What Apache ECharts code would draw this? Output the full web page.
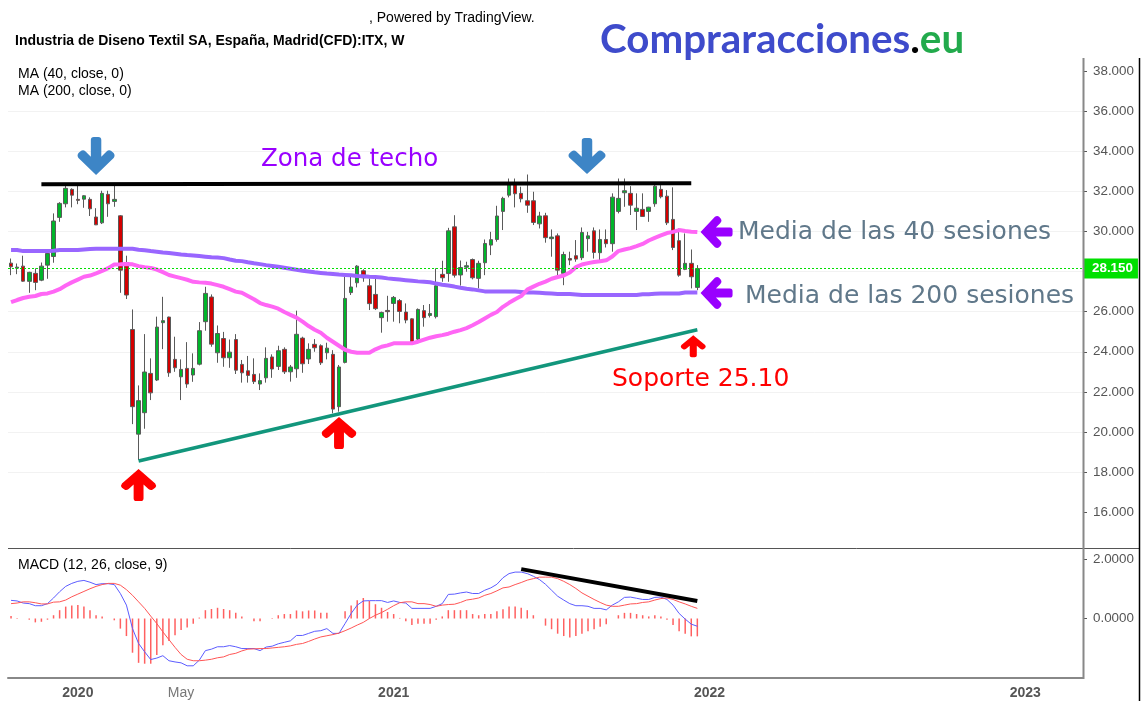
<!DOCTYPE html>
<html lang="es">
<head>
<meta charset="UTF-8">
<title>ITX semanal</title>
<style>
  html,body{margin:0;padding:0;background:#fff;}
  #chart{width:1147px;height:706px;}
</style>
</head>
<body>
<div id="chart"></div>
<script src="https://cdn.jsdelivr.net/npm/echarts@6/dist/echarts.min.js"></script>
<script>
// weekly candles
var opens=[28.42,28.17,28.27,27.51,27.91,27.57,28.32,28.75,30.70,31.38,
  32.10,31.60,31.61,31.60,30.72,30.43,31.85,31.50,30.78,28.45,
  25.11,19.89,20.96,22.92,22.59,25.45,25.73,23.62,22.75,23.17,
  22.84,23.38,25.50,26.73,23.95,24.66,23.70,24.61,23.37,23.05,
  22.87,22.39,22.70,23.74,23.27,24.12,23.00,23.15,24.68,23.64,
  24.37,24.30,23.95,23.87,21.26,23.47,26.95,27.44,28.04,27.29,
  26.86,25.70,26.06,26.41,26.55,25.98,25.64,24.63,26.05,25.81,
  25.75,27.86,27.90,30.23,27.83,28.22,28.60,27.66,28.44,29.32,
  29.60,31.00,31.81,32.39,31.90,31.53,31.53,30.38,30.78,29.64,
  29.78,27.91,28.65,28.79,28.69,29.64,30.03,28.94,29.60,29.39,
  31.00,31.93,31.90,31.00,31.10,31.00,31.38,32.10,31.76,30.60,
  29.54,28.11,28.41,27.21];
var closes=[28.24,28.22,27.52,27.96,27.46,28.27,28.90,30.52,31.40,32.15,
  31.81,31.55,31.78,31.13,30.33,31.90,31.38,31.60,28.07,26.83,
  21.26,21.56,22.99,21.95,25.23,25.55,22.95,23.20,23.12,22.39,
  23.17,25.05,26.91,24.38,24.91,23.70,23.98,23.08,22.95,22.82,
  22.51,22.56,23.67,23.14,24.05,23.00,23.24,24.87,23.40,24.12,
  24.20,23.45,24.18,21.14,23.24,26.66,27.23,28.27,27.69,26.40,
  26.15,25.96,26.00,26.71,26.01,25.58,24.45,26.11,25.70,25.91,
  27.29,27.69,30.03,27.82,28.20,28.29,27.69,28.41,29.40,29.59,
  30.77,31.65,32.39,31.88,31.63,31.31,30.45,30.77,29.69,29.72,
  28.07,28.85,28.57,28.62,29.95,29.78,28.95,29.60,29.39,31.71,
  31.65,32.03,31.31,31.16,30.75,31.21,32.26,31.73,30.43,29.20,
  27.82,28.41,27.74,28.15];
var lows=[27.82,27.87,27.49,26.94,27.07,27.52,27.64,28.44,30.48,31.20,
  31.20,31.36,31.18,30.77,30.32,30.37,30.73,31.23,26.94,26.63,
  20.39,18.60,20.16,21.59,22.54,24.13,22.75,23.00,21.59,22.20,
  22.50,23.32,25.05,24.25,23.45,23.25,23.20,22.89,22.46,22.46,
  22.39,22.09,22.46,22.70,23.09,22.89,22.51,22.70,22.95,23.39,
  24.00,23.34,23.62,20.93,21.01,23.42,26.83,27.21,27.49,26.08,
  26.08,24.95,25.50,25.50,25.42,25.42,24.42,24.55,25.25,25.71,
  25.66,27.49,27.49,27.70,27.30,27.99,27.61,27.16,27.82,28.82,
  29.49,30.07,31.70,31.20,31.45,30.93,30.32,30.15,29.44,28.74,
  27.66,27.32,28.32,28.49,28.57,28.99,28.65,28.57,29.20,28.99,
  30.90,31.23,30.82,30.07,30.73,30.48,31.23,31.65,30.32,29.07,
  27.74,28.07,27.16,27.07];
var highs=[28.65,28.40,28.79,27.99,28.16,28.45,29.07,30.90,31.46,32.31,
  32.15,32.31,31.81,31.70,31.16,32.03,32.03,32.31,30.82,28.79,
  26.11,22.32,24.88,23.67,25.75,26.74,25.75,24.75,23.62,24.48,
  23.92,25.48,27.24,26.86,25.31,24.99,24.61,24.88,23.59,23.79,
  23.67,22.92,24.22,23.87,24.30,24.22,23.34,26.05,24.75,24.42,
  24.63,24.37,24.45,24.08,23.34,27.74,27.74,28.32,28.11,27.66,
  27.66,26.00,26.79,26.78,26.63,26.41,25.67,26.16,26.33,26.38,
  28.16,28.54,30.18,30.81,28.55,28.49,28.65,28.54,29.60,29.98,
  31.28,31.73,32.64,32.64,32.23,32.84,31.98,30.98,30.93,30.10,
  29.90,28.99,28.99,29.57,30.20,29.98,30.20,30.10,30.10,31.90,
  32.64,32.64,32.26,31.90,31.90,31.23,32.31,32.31,32.06,32.20,
  30.15,29.90,29.10,28.32];

// moving averages
var ma40=[26.47,26.58,26.68,26.74,26.78,26.88,26.91,27.00,27.12,27.30,
  27.46,27.60,27.74,27.80,27.91,28.03,28.17,28.35,28.36,28.38,
  28.36,28.27,28.22,28.18,28.10,27.97,27.83,27.75,27.67,27.59,
  27.49,27.46,27.44,27.40,27.32,27.24,27.12,27.00,26.94,26.78,
  26.62,26.43,26.33,26.25,26.15,25.98,25.84,25.70,25.50,25.28,
  25.10,24.95,24.70,24.50,24.30,24.10,24.00,23.95,23.95,23.95,
  24.12,24.25,24.32,24.42,24.42,24.42,24.42,24.50,24.60,24.70,
  24.77,24.83,24.90,25.00,25.08,25.18,25.32,25.48,25.66,25.84,
  25.98,26.24,26.44,26.62,26.78,27.10,27.25,27.39,27.50,27.64,
  27.73,27.80,27.95,28.22,28.35,28.42,28.48,28.51,28.56,28.75,
  29.02,29.10,29.17,29.27,29.38,29.55,29.68,29.80,29.92,29.98,
  30.07,30.02,29.99,29.97];
var ma200=[29.07,29.07,29.02,29.02,29.02,29.02,29.03,29.04,29.07,29.07,
  29.07,29.07,29.10,29.13,29.14,29.14,29.14,29.14,29.14,29.14,
  29.14,29.09,29.06,29.02,28.99,28.95,28.93,28.89,28.85,28.82,
  28.80,28.77,28.74,28.71,28.70,28.67,28.60,28.54,28.52,28.46,
  28.41,28.37,28.32,28.28,28.24,28.19,28.14,28.09,28.04,28.00,
  27.96,27.93,27.90,27.88,27.85,27.83,27.81,27.78,27.76,27.74,
  27.73,27.70,27.66,27.63,27.60,27.57,27.54,27.51,27.49,27.47,
  27.40,27.34,27.30,27.25,27.19,27.14,27.11,27.06,27.01,27.01,
  27.01,27.00,27.00,27.00,26.98,26.96,26.95,26.94,26.92,26.90,
  26.88,26.88,26.88,26.86,26.83,26.83,26.83,26.83,26.83,26.83,
  26.83,26.83,26.83,26.83,26.87,26.87,26.89,26.90,26.90,26.90,
  26.91,26.95,26.96,26.96];

// MACD panel
var macdLine=[.61,.59,.52,.50,.43,.43,.50,.69,.90,1.08,
  1.18,1.25,1.28,1.22,1.14,1.17,1.17,1.14,.84,.45,
  -.34,-.84,-1.12,-1.38,-1.33,-1.25,-1.42,-1.46,-1.49,-1.59,
  -1.59,-1.40,-1.08,-1.03,-.95,-.95,-.91,-.95,-1.01,-1.01,
  -1.01,-1.08,-.96,-.93,-.85,-.80,-.75,-.57,-.57,-.50,
  -.43,-.41,-.34,-.50,-.50,-.17,.17,.45,.59,.60,
  .60,.60,.54,.59,.54,.52,.34,.34,.34,.34,
  .41,.50,.81,.82,.86,.89,.84,.84,.95,1.03,
  1.15,1.37,1.51,1.56,1.56,1.51,1.42,1.31,1.15,.95,
  .75,.62,.50,.43,.43,.41,.34,.34,.29,.45,
  .56,.71,.72,.68,.64,.64,.71,.72,.64,.45,
  .17,-.02,-.19,-.26];
var signalLine=[.50,.52,.56,.56,.53,.49,.49,.55,.56,.62,
  .73,.82,.91,1.00,1.08,1.14,1.18,1.18,1.12,.97,
  .78,.56,.34,.08,-.17,-.45,-.71,-.97,-1.21,-1.37,
  -1.42,-1.42,-1.40,-1.37,-1.32,-1.29,-1.21,-1.17,-1.09,-1.03,
  -1.02,-1.01,-1.01,-.99,-.97,-.95,-.92,-.87,-.84,-.77,
  -.69,-.62,-.58,-.54,-.49,-.41,-.32,-.22,-.13,0,
  .11,.20,.31,.43,.53,.56,.56,.50,.50,.47,
  .41,.45,.47,.48,.54,.62,.65,.69,.78,.84,
  .93,1.03,1.06,1.14,1.21,1.29,1.34,1.39,1.39,1.39,
  1.34,1.25,1.14,1.01,.86,.75,.64,.54,.45,.41,
  .41,.45,.49,.50,.54,.56,.62,.67,.69,.64,
  .56,.49,.41,.34];
var macdHist=[.08,.02,0,-.04,-.13,-.11,-.04,.11,.28,.40,
  .44,.45,.40,.28,.11,.07,0,-.06,-.34,-.59,
  -1.15,-1.49,-1.52,-1.52,-1.23,-.90,-.76,-.56,-.39,-.30,
  -.18,.03,.28,.32,.36,.32,.28,.19,.07,0,
  -.09,-.09,0,.02,.11,.15,.15,.27,.24,.27,
  .27,.19,.19,0,0,.24,.44,.61,.69,.59,
  .48,.36,.22,.15,.02,-.09,-.22,-.18,-.18,-.18,
  -.04,.07,.28,.28,.28,.28,.15,.11,.15,.15,
  .24,.31,.40,.40,.36,.28,.11,0,-.24,-.36,
  -.51,-.59,-.64,-.59,-.51,-.43,-.36,-.28,-.19,0,
  .11,.19,.19,.15,.11,.07,.11,.07,-.04,-.22,
  -.43,-.51,-.60,-.60];

var lastPrice=28.15;
var priceTicks=[16,18,20,22,24,26,28,30,32,34,36,38];
var macdTicks=[0,2];
// category index -> label on the time axis ('' = tick only)
var timeTicks={11:'2020',28:'May',46:'',63:'2021',80:'',98:'',115:'2022',132:'',150:'',167:'2023'};

// one category per week, the axis runs on past the last candle
var categories=[];
var weekStart=new Date(Date.UTC(2019,9,14));
for(var w=0;w<177;w++){
  categories.push(new Date(weekStart.getTime()+w*7*86400000).toISOString().slice(0,10));
}

var candles=opens.map(function(o,i){return [o,closes[i],lows[i],highs[i]];});

var arrowPath='path://M50 0 L97 45 Q102 52 97 58 L90 64 Q84 68 78 62 L64 48 L64 92 Q64 100 56 100 L44 100 Q36 100 36 92 L36 48 L22 62 Q16 68 10 64 L3 58 Q-2 52 3 45 Z';

function arrow(idx,price,color,rotate,w,h,dx){
  return {coord:[idx,price],symbol:arrowPath,symbolSize:[w,h],symbolRotate:rotate,symbolKeepAspect:false,
    symbolOffset:[dx||0,0],itemStyle:{color:color},label:{show:false}};
}
function segment(a,b,color,width){
  return [{coord:a,lineStyle:{color:color,width:width,type:'solid'},label:{show:false}},{coord:b,label:{show:false}}];
}
function txt(x,y,text,font,fill){
  return {type:'text',x:x,y:y,z:100,silent:true,
    style:{text:text,font:font,fill:fill,textVerticalAlign:'middle'}};
}
function rule(x1,y1,x2,y2,color,width){
  return {type:'line',z:90,silent:true,shape:{x1:x1,y1:y1,x2:x2,y2:y2},style:{stroke:color,lineWidth:width}};
}

var axisFont='"Liberation Sans",Arial,sans-serif';
var noteFont='"DejaVu Sans",Verdana,sans-serif';

var chart=echarts.init(document.getElementById('chart'));
chart.setOption({
  animation:false,
  backgroundColor:'#fff',
  grid:[
    {left:8,right:64,top:51,height:501.25},
    {left:8,right:64,top:548,height:130}
  ],
  xAxis:[
    {type:'category',gridIndex:0,data:categories,show:false},
    {type:'category',gridIndex:1,data:categories,
      axisLine:{onZero:false,lineStyle:{color:'#888',width:2}},
      axisTick:{alignWithLabel:true,length:4,lineStyle:{color:'#555'},
        interval:function(i){return timeTicks[i]!==undefined;}},
      axisLabel:{margin:8,
        interval:function(i){return !!timeTicks[i];},
        formatter:function(v,i){
          return timeTicks[i]==='May'?'{n|May}':'{b|'+timeTicks[i]+'}';
        },
        rich:{
          b:{fontFamily:axisFont,fontSize:14,fontWeight:'bold',color:'#555'},
          n:{fontFamily:axisFont,fontSize:14,color:'#777'}
        }}}
  ],
  yAxis:[
    {type:'value',gridIndex:0,position:'right',min:14,max:39,interval:2,scale:true,
      axisLine:{show:false},
      axisTick:{show:true,length:4,customValues:priceTicks,lineStyle:{color:'#555'}},
      axisLabel:{margin:10,color:'#555',fontFamily:axisFont,fontSize:13.4,padding:[5,0,0,0],customValues:priceTicks,
        formatter:function(v){return v.toFixed(3);}},
      splitLine:{show:true,showMinLine:false,showMaxLine:false,lineStyle:{color:'#f2f2f2',width:1}}},
    {type:'value',gridIndex:1,position:'right',min:-2,max:2.37,interval:2,
      axisLine:{show:false},
      axisTick:{show:true,length:4,customValues:macdTicks,lineStyle:{color:'#555'}},
      axisLabel:{margin:10,color:'#555',fontFamily:axisFont,fontSize:13.4,padding:[5,0,0,0],customValues:macdTicks,
        formatter:function(v){return v.toFixed(4);}},
      splitLine:{show:true,showMinLine:false,showMaxLine:false,lineStyle:{color:'#f2f2f2',width:1}}}
  ],
  series:[
    {name:'ITX',type:'candlestick',xAxisIndex:0,yAxisIndex:0,data:candles,barWidth:4,clip:false,
      itemStyle:{color:'#00b52a',color0:'#d40000',borderColor:'#5a5a5a',borderColor0:'#5a5a5a',borderWidth:1}},
    {name:'MA 200',type:'line',xAxisIndex:0,yAxisIndex:0,data:ma200,symbol:'none',
      lineStyle:{color:'#9966ff',width:4}},
    {name:'MA 40',type:'line',xAxisIndex:0,yAxisIndex:0,data:ma40,symbol:'none',
      lineStyle:{color:'#ff66f5',width:4},
      z:5,
      markLine:{silent:true,symbol:'none',z:6,animation:false,
        data:[
          {yAxis:lastPrice,lineStyle:{color:'#00e000',width:1,type:[2,2]},
            label:{show:true,position:'end',distance:0,formatter:'28.150',color:'#fff',
              fontFamily:axisFont,fontSize:13.4,fontWeight:'bold',lineHeight:14,
              backgroundColor:'#00e000',padding:[3,5,3,9]}},
          segment([5,32.36],[112,32.40],'#000',4),
          segment([21,18.55],[113,25.10],'#12967c',3.5)
        ]},
      markPoint:{silent:true,z:7,animation:false,
        data:[
          arrow(14,33.76,'#3d85c6',180,37,38),
          arrow(95,33.76,'#3d85c6',180,37,36,-1),
          arrow(21,17.35,'#ff0000',0,35,32),
          arrow(54,19.95,'#ff0000',0,35,32),
          arrow(112,24.28,'#ff0000',0,25,22,2),
          arrow(116,29.97,'#9900ff',90,32,32,1),
          arrow(116,26.93,'#9900ff',90,32,32,1)
        ]}},
    {name:'Hist',type:'bar',xAxisIndex:1,yAxisIndex:1,data:macdHist,barWidth:1.5,
      itemStyle:{color:'#ff6060'}},
    {name:'MACD',type:'line',xAxisIndex:1,yAxisIndex:1,data:macdLine,symbol:'none',
      lineStyle:{color:'#5c5cff',width:1}},
    {name:'Signal',type:'line',xAxisIndex:1,yAxisIndex:1,data:signalLine,symbol:'none',
      lineStyle:{color:'#ff5555',width:1},
      markLine:{silent:true,symbol:'none',animation:false,
        data:[segment([84,1.66],[113,0.59],'#000',4)]}}
  ],
  graphic:[
    rule(8,548.5,1139,548.5,'#555',1),
    rule(1083.5,58,1083.5,679,'#888',2),
    rule(1139.5,58,1139.5,701,'#000',1.5),
    txt(369,18,', Powered by TradingView.','14px '+axisFont,'#000'),
    txt(15,41,'Industria de Diseno Textil SA, España, Madrid(CFD):ITX, W','bold 14px '+axisFont,'#000'),
    txt(18,74,'MA (40, close, 0)','14px '+axisFont,'#000'),
    txt(18,91,'MA (200, close, 0)','14px '+axisFont,'#000'),
    txt(18,565,'MACD (12, 26, close, 9)','14px '+axisFont,'#000'),
    {type:'text',x:600,y:40,z:100,silent:true,style:{
      text:'{a|Compraracciones}{k|.}{g|eu}',textVerticalAlign:'middle',
      rich:{
        a:{fontFamily:'Lato',fontSize:40.3,fontWeight:'bold',fill:'#3e4bcb',color:'#3e4bcb'},
        k:{fontFamily:'Lato',fontSize:40.3,fontWeight:'bold',fill:'#000',color:'#000'},
        g:{fontFamily:'Lato',fontSize:40.3,fontWeight:'bold',fill:'#22aa4c',color:'#22aa4c'}
      }}},
    txt(261,160,'Zona de techo','24.5px '+noteFont,'#9900ff'),
    txt(738,232,'Media de las 40 sesiones','25px '+noteFont,'#60788a'),
    txt(745,296,'Media de las 200 sesiones','25px '+noteFont,'#60788a'),
    txt(612,379,'Soporte 25.10','25px '+noteFont,'#ff0000')
  ]
});
</script>
</body>
</html>
